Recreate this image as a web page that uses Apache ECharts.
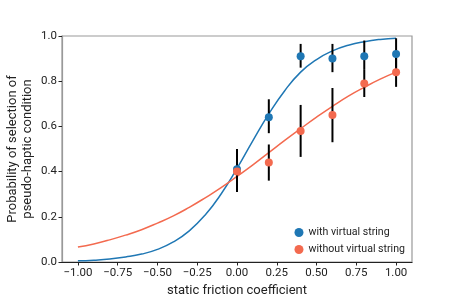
<!DOCTYPE html>
<html><head><meta charset="utf-8">
<script src="https://cdn.jsdelivr.net/npm/echarts@6/dist/echarts.min.js"></script>
<style>html,body{margin:0;padding:0;background:#fff}#c{width:457px;height:300px}</style>
</head><body><div id="c"></div>
<script>
// Observed points
var xPoints = [0, 0.2, 0.4, 0.6, 0.8, 1.0];
var withVals = [0.41, 0.64, 0.91, 0.90, 0.91, 0.92];
var withLow  = [0.33, 0.57, 0.86, 0.84, 0.85, 0.86];
var withHigh = [0.50, 0.72, 0.965, 0.965, 0.98, 0.99];
var withoutVals = [0.40, 0.44, 0.58, 0.65, 0.79, 0.84];
var withoutLow  = [0.31, 0.36, 0.465, 0.53, 0.73, 0.775];
var withoutHigh = [0.48, 0.52, 0.695, 0.77, 0.85, 0.91];
// Fitted curves
var curveX = [-1,-0.9,-0.8,-0.7,-0.6,-0.5,-0.4,-0.3,-0.2,-0.1,0,0.1,0.2,0.3,0.4,0.5,0.6,0.7,0.8,0.9,1.0];
var withCurve = [0.005,0.008,0.013,0.022,0.035,0.056,0.089,0.138,0.208,0.301,0.414,0.537,0.655,0.758,0.840,0.896,0.934,0.959,0.975,0.985,0.990];
var withoutCurve = [0.066,0.080,0.098,0.119,0.143,0.172,0.204,0.242,0.284,0.329,0.379,0.430,0.484,0.538,0.590,0.641,0.689,0.734,0.773,0.809,0.840];
var xTicks = [-1,-0.75,-0.5,-0.25,0,0.25,0.5,0.75,1];
var yTicks = [0,0.2,0.4,0.6,0.8,1.0];

var BLUE = '#1f77b4', ORANGE = '#f36a4f';
function pairs(xs, ys){ return xs.map(function(x,i){return [x, ys[i]];}); }
function errData(lo, hi){ return xPoints.map(function(x,i){return [x, lo[i], hi[i]];}); }
function errSeries(lo, hi){
  return {
    type:'custom', data: errData(lo,hi), z: 3, silent:true,
    renderItem: function(params, api){
      var p1 = api.coord([api.value(0), api.value(1)]);
      var p2 = api.coord([api.value(0), api.value(2)]);
      return {type:'line', shape:{x1:p1[0],y1:p1[1],x2:p2[0],y2:p2[1]}, style:{stroke:'#000', lineWidth:2}};
    }
  };
}
var chart = echarts.init(document.getElementById('c'));
var font = 'Roboto';
chart.setOption({
  animation:false,
  grid:{left:62, right:45, top:36, bottom:38, show:true, borderColor:'#999', borderWidth:1.2, containLabel:false, outerBoundsMode:'none'},
  xAxis:{type:'value', min:-1.1, max:1.1,
    name:'static friction coefficient', nameLocation:'middle', nameGap:22,
    nameTextStyle:{fontFamily:font, fontSize:13, color:'#222'},
    splitLine:{show:false},
    axisLine:{show:true, onZero:false, lineStyle:{color:'#222', width:1.2}},
    axisTick:{show:true, length:3.5, customValues:xTicks, lineStyle:{color:'#222'}},
    axisLabel:{customValues:xTicks, fontFamily:font, fontSize:11.5, color:'#222', margin:5,
      formatter:function(v){return v.toFixed(2).replace('-', '\u2212');}}
  },
  yAxis:{type:'value', min:0, max:1, interval:0.2,
    name:'Probability of selection of\npseudo-haptic condition', nameLocation:'middle', nameGap:27, nameMoveOverlap:false,
    nameTextStyle:{fontFamily:font, fontSize:13, color:'#222', lineHeight:15},
    splitLine:{show:false},
    axisLine:{show:true, onZero:false, lineStyle:{color:'#999', width:1.2}},
    axisTick:{show:true, length:3.5, lineStyle:{color:'#222'}},
    axisLabel:{fontFamily:font, fontSize:11.5, color:'#222', margin:5,
      formatter:function(v){return v.toFixed(1);}}
  },
  legend:{right:47, bottom:40, orient:'vertical', itemWidth:9, itemHeight:9, itemGap:6, itemStyle:{borderWidth:0},
    textStyle:{fontFamily:font, fontSize:10.6, color:'#222'},
    data:[{name:'with virtual string', icon:'circle'},{name:'without virtual string', icon:'circle'}]},
  series:[
    {type:'line', data:pairs(curveX, withCurve), smooth:true, showSymbol:false, lineStyle:{color:BLUE, width:1.5}, z:2, silent:true},
    {type:'line', data:pairs(curveX, withoutCurve), smooth:true, showSymbol:false, lineStyle:{color:ORANGE, width:1.5}, z:2, silent:true},
    errSeries(withLow, withHigh),
    errSeries(withoutLow, withoutHigh),
    {name:'with virtual string', type:'scatter', data:pairs(xPoints, withVals), symbolSize:8, itemStyle:{color:BLUE, opacity:1}, z:5},
    {name:'without virtual string', type:'scatter', data:pairs(xPoints, withoutVals), symbolSize:8, itemStyle:{color:ORANGE, opacity:1}, z:5}
  ]
});
</script></body></html>
